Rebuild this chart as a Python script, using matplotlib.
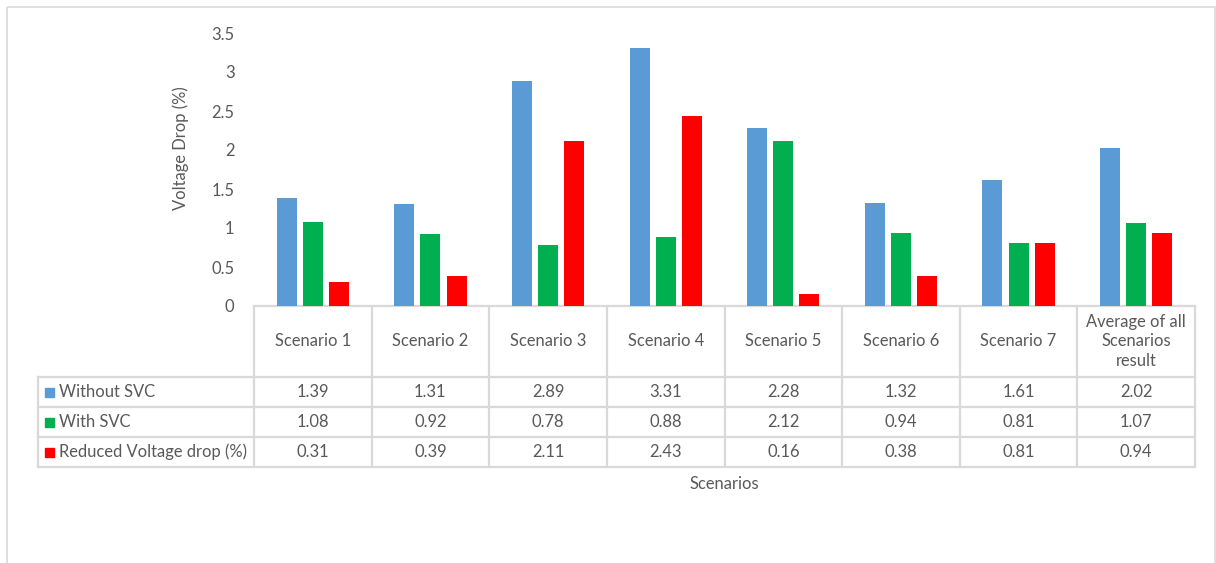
import matplotlib
matplotlib.use('Agg')
import matplotlib.pyplot as plt
from matplotlib.patches import Rectangle
import numpy as np

plt.rcParams['font.family'] = ['Lato', 'DejaVu Sans']

# ---------- data ----------
categories = ['Scenario 1', 'Scenario 2', 'Scenario 3', 'Scenario 4', 'Scenario 5',
              'Scenario 6', 'Scenario 7', 'Average of all\nScenarios\nresult']
series_names = ['Without SVC', 'With SVC', 'Reduced Voltage drop (%)']
without_svc = [1.39, 1.31, 2.89, 3.31, 2.28, 1.32, 1.61, 2.02]
with_svc = [1.08, 0.92, 0.78, 0.88, 2.12, 0.94, 0.81, 1.07]
reduced = [0.31, 0.39, 2.11, 2.43, 0.16, 0.38, 0.81, 0.94]
colors = ['#5B9BD5', '#00B050', '#FF0000']
yticks = [0, 0.5, 1, 1.5, 2, 2.5, 3, 3.5]

W, H = 1216, 563
TXT = '#595959'
GRID = '#D9D9D9'
FS = 11.9

fig = plt.figure(figsize=(W / 100, H / 100), dpi=100)


def fx(px):
    return px / W


def fy(py):
    return 1 - py / H


# plot area in pixel coordinates
x0, x1 = 254, 1195
y_top, y_zero = 33, 306
ax = fig.add_axes([fx(x0), fy(y_zero), fx(x1 - x0), (y_zero - y_top) / H])
n = len(categories)
x = np.arange(n)
bw = 0.17
step = 0.222
for i, vals in enumerate([without_svc, with_svc, reduced]):
    ax.bar(x + (i - 1) * step, vals, width=bw, color=colors[i], zorder=2)
ax.set_xlim(-0.5, n - 0.5)
ax.set_ylim(0, 3.5)
ax.set_yticks(yticks)
ax.set_yticklabels([f'{t:g}' for t in yticks], color=TXT, fontsize=FS)
ax.tick_params(axis='y', length=0, pad=14)
ax.set_xticks([])
for s in ax.spines.values():
    s.set_visible(False)
ax.patch.set_alpha(0)

# overlay in pixel coordinates for the data table and frame
ov = fig.add_axes([0, 0, 1, 1], zorder=-1)
ov.set_xlim(0, W)
ov.set_ylim(H, 0)
ov.axis('off')

ov.add_patch(Rectangle((7, 7), 1208, 600, fill=False, ec=GRID, lw=1.2))

col_w = (x1 - x0) / n
row_y = [306, 377, 407, 437, 467]
lw = 1.6
# header row lines
ov.plot([x0, x1], [row_y[0], row_y[0]], color=GRID, lw=lw)
for r in row_y[1:]:
    ov.plot([38, x1], [r, r], color=GRID, lw=lw)
for k in range(n + 1):
    xx = x0 + k * col_w
    ov.plot([xx, xx], [row_y[0], row_y[-1]], color=GRID, lw=lw)
ov.plot([38, 38], [row_y[1], row_y[-1]], color=GRID, lw=lw)

for k, c in enumerate(categories):
    ov.text(x0 + (k + 0.5) * col_w, (row_y[0] + row_y[1]) / 2, c, ha='center', va='center',
            color=TXT, fontsize=FS, linespacing=1.3)

for i, (name, vals) in enumerate(zip(series_names, [without_svc, with_svc, reduced])):
    yc = (row_y[i + 1] + row_y[i + 2]) / 2
    ov.add_patch(Rectangle((45, yc - 4.5), 9, 9, color=colors[i]))
    ov.text(59, yc, name, ha='left', va='center', color=TXT, fontsize=FS)
    for k, v in enumerate(vals):
        ov.text(x0 + (k + 0.5) * col_w, yc, f'{v:.2f}', ha='center', va='center',
                color=TXT, fontsize=FS)

ov.text((x0 + x1) / 2, 484, 'Scenarios', ha='center', va='center', color=TXT, fontsize=FS)
ov.text(181, 148, 'Voltage Drop (%)', ha='center', va='center', rotation=90,
        color=TXT, fontsize=FS)

fig.savefig('out.png', dpi=100)
